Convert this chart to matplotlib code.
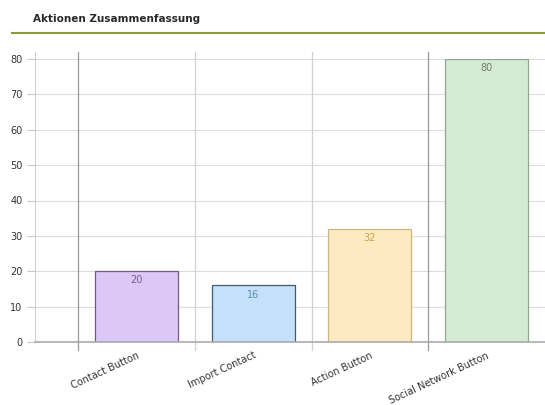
import matplotlib
matplotlib.use("Agg")
import matplotlib.pyplot as plt
from matplotlib.lines import Line2D

title = "Aktionen Zusammenfassung"
categories = ["Contact Button", "Import Contact", "Action Button", "Social Network Button"]
values = [20, 16, 32, 80]
yticks = [0, 10, 20, 30, 40, 50, 60, 70, 80]

fills = ["#dcc8f6", "#c4e0fb", "#fde9c2", "#d4ead2"]
edges = ["#6f5a80", "#3f5b70", "#cdb777", "#8ea98b"]
label_colors = ["#7a5a9c", "#5d8fb0", "#c4a452", "#6f806d"]

W, H = 545, 405
fig = plt.figure(figsize=(W / 100, H / 100), dpi=100)

def fx(px):
    return px / W

def fy(py):
    return 1 - py / H

# title and underline
fig.text(fx(33), fy(19), title, fontsize=7.5, fontweight="bold", color="#2a2a2a",
         va="center", ha="left")
fig.add_artist(Line2D([fx(12), fx(545)], [fy(33), fy(33)], color="#8a9a46",
                      linewidth=1.5, transform=fig.transFigure))

left, right, top, bottom = 35, 545, 59, 342
ax = fig.add_axes([fx(left), fy(bottom), fx(right - left), fy(top) - fy(bottom)])

x0 = -0.5 - (78 - left) / ((right - 78) / 4)
ax.set_xlim(x0, 3.5)
ax.set_ylim(0, 80)

for s in ["top", "right", "bottom", "left"]:
    ax.spines[s].set_visible(False)
ax.plot([x0, x0], [0, 82], color="#d0d0d0", linewidth=0.8, clip_on=False, zorder=1)

ax.set_yticks(yticks)
ax.set_yticklabels([str(t) for t in yticks], fontsize=7, color="#333333")
ax.tick_params(axis="y", length=6, color="#c8c8c8", pad=3)

for t in yticks[1:]:
    ax.axhline(t, color="#dddddd", linewidth=0.8, zorder=0)
ax.axhline(0, color="#aaaaaa", linewidth=1.2, zorder=3, clip_on=False)

# category boundary lines
bounds = [-0.5, 0.5, 1.5, 2.5]
bcolors = ["#9a9a9a", "#d0d0d0", "#d0d0d0", "#9a9a9a"]
for b, c in zip(bounds, bcolors):
    ax.plot([b, b], [-2.2, 82], color=c, linewidth=0.9, zorder=1, clip_on=False)

xs = list(range(len(categories)))
bars = ax.bar(xs, values, width=0.71, color=fills, edgecolor=edges, linewidth=0.9, zorder=2)
for x, v, c in zip(xs, values, label_colors):
    ax.text(x, v - 1.2, str(v), ha="center", va="top", fontsize=7, color=c, zorder=4)

ax.set_xticks(xs)
ax.set_xticklabels(categories, rotation=25, ha="right", rotation_mode="anchor",
                   fontsize=7, color="#333333")
ax.tick_params(axis="x", length=0, pad=6)

fig.savefig("out.png", dpi=100, facecolor="white")
